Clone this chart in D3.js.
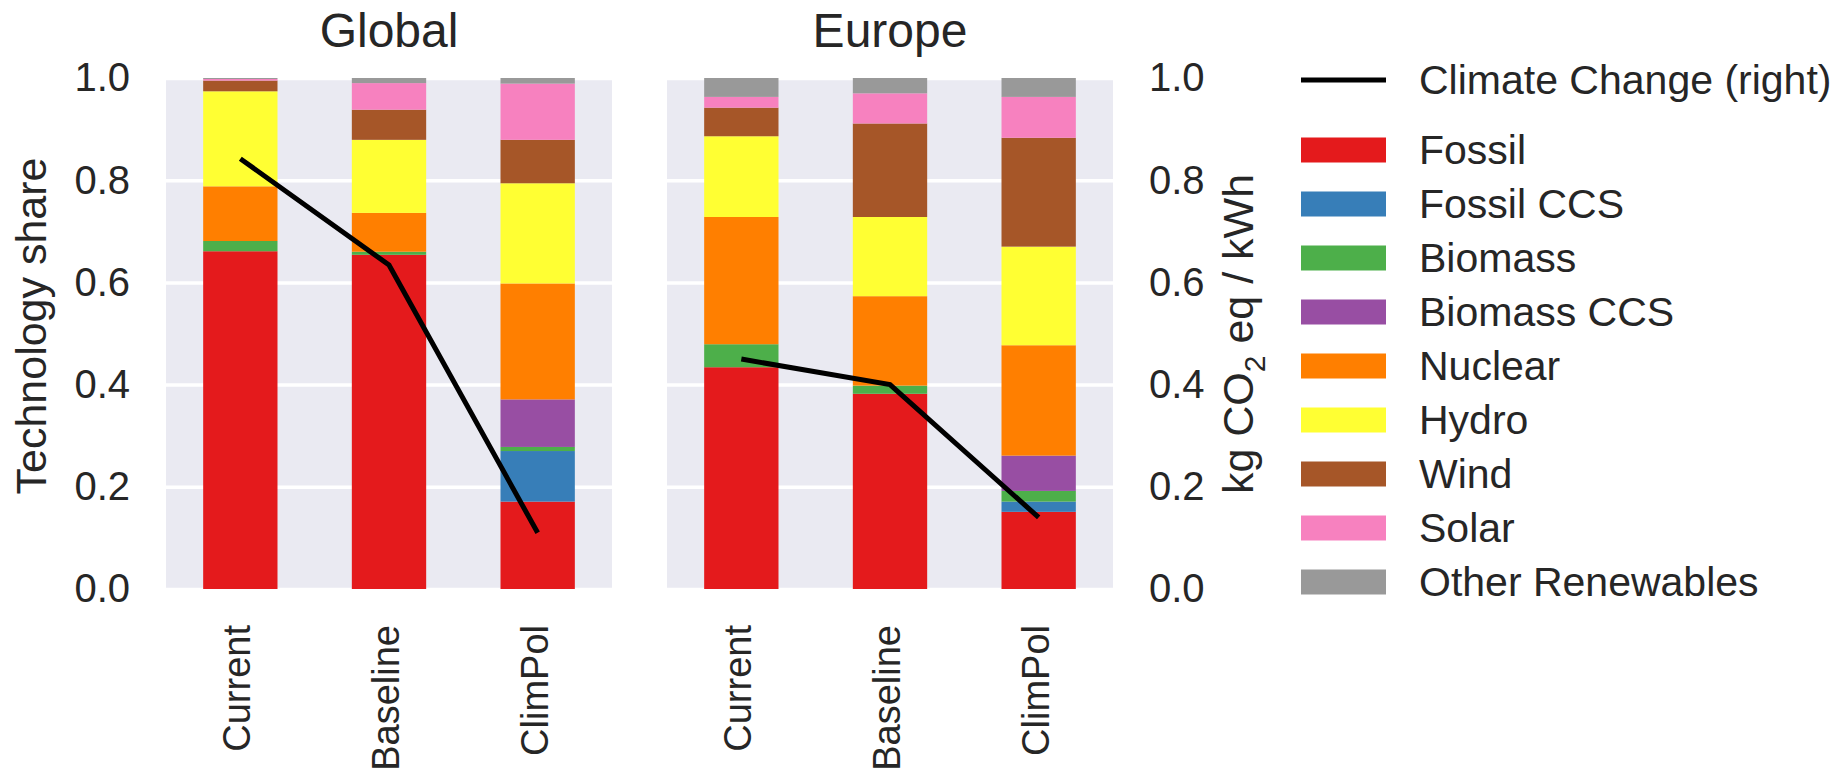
<!DOCTYPE html>
<html>
<head>
<meta charset="utf-8">
<script src="https://cdn.jsdelivr.net/npm/d3@7/dist/d3.min.js"></script>
<style>
  body { margin: 0; background: #ffffff; }
  svg text { font-family: "Liberation Sans", Arial, Helvetica, sans-serif; fill: #262626; }
</style>
</head>
<body>
<div id="chart"></div>
<script>
// scenarios and technologies
var scenarios = ["Current", "Baseline", "ClimPol"];
var technologies = ["Fossil", "Fossil CCS", "Biomass", "Biomass CCS", "Nuclear", "Hydro", "Wind", "Solar", "Other Renewables"];
var techColors = ["#e41a1c", "#377eb8", "#4daf4a", "#984ea3", "#ff7f00", "#ffff33", "#a65628", "#f781bf", "#999999"];

// technology shares, one value per technology (same order as above)
var globalCurrent  = [0.661, 0.000, 0.020, 0.000, 0.107, 0.186, 0.021, 0.003, 0.002];
var globalBaseline = [0.654, 0.000, 0.006, 0.000, 0.076, 0.143, 0.059, 0.052, 0.010];
var globalClimPol  = [0.171, 0.099, 0.008, 0.093, 0.227, 0.196, 0.085, 0.110, 0.011];
var europeCurrent  = [0.434, 0.000, 0.045, 0.000, 0.249, 0.158, 0.056, 0.021, 0.037];
var europeBaseline = [0.382, 0.000, 0.016, 0.000, 0.175, 0.155, 0.183, 0.059, 0.030];
var europeClimPol  = [0.151, 0.020, 0.021, 0.069, 0.216, 0.193, 0.213, 0.080, 0.037];

// climate change, kg CO2 eq / kWh (right axis)
var globalClimate = [0.842, 0.634, 0.110];
var europeClimate = [0.450, 0.400, 0.140];

var yTicks = [0.0, 0.2, 0.4, 0.6, 0.8, 1.0];

var width = 1846, height = 783;
var panelTop = 78, panelBottom = 589, panelWidth = 446;
var tickFont = "40px", xTickFont = "38px", legendFont = "41px", labelFont = "43px", titleFont = "48px";

var svg = d3.select("#chart")
    .append("svg")
    .attr("width", width)
    .attr("height", height);

var yScale = d3.scaleLinear()
    .domain([0, 1])
    .range([panelBottom, panelTop]);

function toRows(arrays) {
    return arrays.map(function(arr, i) {
        var row = { scenario: scenarios[i] };
        technologies.forEach(function(t, j) { row[t] = arr[j]; });
        return row;
    });
}

function drawPanel(left, title, shares, climate) {
    var g = svg.append("g")
        .attr("transform", `translate(${left},0)`);

    var xScale = d3.scaleBand()
        .domain(scenarios)
        .range([0, panelWidth])
        .paddingInner(0.5)
        .paddingOuter(0.25);

    // background
    g.append("rect")
        .attr("x", 0)
        .attr("y", panelTop)
        .attr("width", panelWidth)
        .attr("height", panelBottom - panelTop)
        .attr("fill", "#eaeaf2");

    // horizontal grid
    g.append("g")
        .call(d3.axisLeft(yScale).tickValues(yTicks).tickSize(-panelWidth).tickFormat(""))
        .call(function(a) { a.select(".domain").remove(); })
        .selectAll("line")
        .attr("stroke", "#ffffff")
        .attr("stroke-width", 3.5);

    var stacked = d3.stack().keys(technologies)(toRows(shares));

    g.selectAll(".layer")
        .data(stacked)
        .join("g")
        .attr("class", "layer")
        .attr("fill", function(d, i) { return techColors[i]; })
        .selectAll("rect")
        .data(function(d) { return d; })
        .join("rect")
        .attr("x", function(d) { return xScale(d.data.scenario); })
        .attr("y", function(d) { return yScale(d[1]); })
        .attr("width", xScale.bandwidth())
        .attr("height", function(d) { return yScale(d[0]) - yScale(d[1]); });

    // climate change line
    var line = d3.line()
        .x(function(d, i) { return xScale(scenarios[i]) + xScale.bandwidth() / 2; })
        .y(function(d) { return yScale(d); });

    g.append("path")
        .datum(climate)
        .attr("d", line)
        .attr("fill", "none")
        .attr("stroke", "#000000")
        .attr("stroke-width", 5);

    // x tick labels, rotated
    g.selectAll(".xlabel")
        .data(scenarios)
        .join("text")
        .attr("class", "xlabel")
        .attr("transform", function(d) {
            return `translate(${xScale(d) + xScale.bandwidth() / 2 - 3},625) rotate(-90)`;
        })
        .attr("text-anchor", "end")
        .attr("dominant-baseline", "central")
        .style("font-size", xTickFont)
        .text(function(d) { return d; });

    g.append("text")
        .attr("x", panelWidth / 2)
        .attr("y", 47)
        .attr("text-anchor", "middle")
        .style("font-size", titleFont)
        .text(title);

    return g;
}

var leftPanel = drawPanel(166, "Global", [globalCurrent, globalBaseline, globalClimPol], globalClimate);
var rightPanel = drawPanel(667, "Europe", [europeCurrent, europeBaseline, europeClimPol], europeClimate);

// left y axis
leftPanel.append("g")
    .attr("transform", "translate(-33,0)")
    .call(d3.axisLeft(yScale).tickValues(yTicks).tickSize(0).tickFormat(d3.format(".1f")))
    .call(function(a) { a.select(".domain").remove(); })
    .selectAll("text")
    .attr("fill", "#262626")
    .style("font-size", tickFont)
    .style("font-family", "'Liberation Sans', Arial, sans-serif");

leftPanel.append("text")
    .attr("transform", `translate(${31 - 166},326) rotate(-90)`)
    .attr("text-anchor", "middle")
    .attr("dominant-baseline", "central")
    .style("font-size", labelFont)
    .text("Technology share");

// right y axis
rightPanel.append("g")
    .attr("transform", `translate(${panelWidth + 33},0)`)
    .call(d3.axisRight(yScale).tickValues(yTicks).tickSize(0).tickFormat(d3.format(".1f")))
    .call(function(a) { a.select(".domain").remove(); })
    .selectAll("text")
    .attr("fill", "#262626")
    .style("font-size", tickFont)
    .style("font-family", "'Liberation Sans', Arial, sans-serif");

var rightLabel = rightPanel.append("text")
    .attr("transform", `translate(${1238 - 667},334) rotate(-90)`)
    .attr("text-anchor", "middle")
    .attr("dominant-baseline", "central")
    .style("font-size", labelFont);
rightLabel.append("tspan").text("kg CO");
rightLabel.append("tspan").attr("baseline-shift", "sub").style("font-size", "30px").text("2");
rightLabel.append("tspan").text(" eq / kWh");

// legend
var legend = svg.append("g")
    .attr("transform", "translate(1301,80)");

legend.append("line")
    .attr("x1", 0)
    .attr("x2", 85)
    .attr("y1", 0)
    .attr("y2", 0)
    .attr("stroke", "#000000")
    .attr("stroke-width", 5);

legend.append("text")
    .attr("x", 118)
    .attr("y", 0)
    .attr("dominant-baseline", "central")
    .style("font-size", legendFont)
    .text("Climate Change (right)");

var items = legend.selectAll(".item")
    .data(technologies)
    .join("g")
    .attr("class", "item")
    .attr("transform", function(d, i) { return `translate(0,${70 + i * 54})`; });

items.append("rect")
    .attr("x", 0)
    .attr("y", -12.5)
    .attr("width", 85)
    .attr("height", 25)
    .attr("fill", function(d, i) { return techColors[i]; });

items.append("text")
    .attr("x", 118)
    .attr("y", 0)
    .attr("dominant-baseline", "central")
    .style("font-size", legendFont)
    .text(function(d) { return d; });
</script>
</body>
</html>
